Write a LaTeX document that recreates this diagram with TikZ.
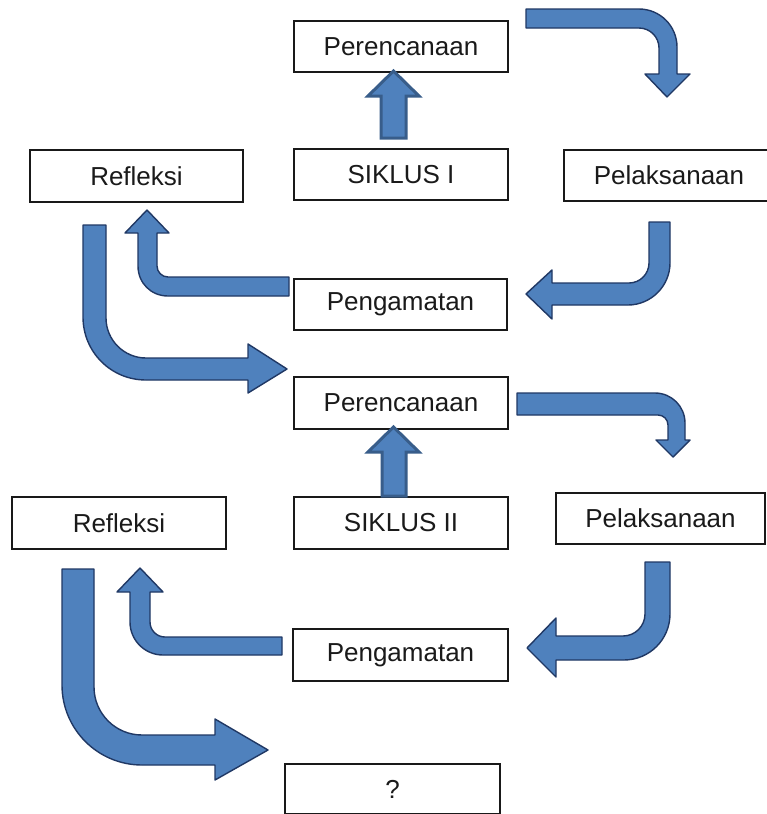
\documentclass[tikz,border=0pt]{standalone}
\usepackage{fontspec}
\setmainfont{Liberation Sans}
\definecolor{arrfill}{HTML}{4F81BD}
\definecolor{arrline}{HTML}{203864}
\definecolor{uparrline}{HTML}{385D8A}
\definecolor{txt}{HTML}{1A1A1A}
\begin{document}
\begin{tikzpicture}[x=1pt,y=-1pt,
  box/.style={draw=black!90, line width=2.8pt, fill=white, inner sep=0pt,
    text=txt, font=\fontsize{26}{30}\selectfont},
  bent/.style={fill=arrfill, draw=arrline, line width=1.4pt, line join=round},
  uparr/.style={fill=arrfill, draw=uparrline, line width=3pt, line join=miter}]
\useasboundingbox (0,0) rectangle (766,814);
\fill[white] (0,0) rectangle (766,814);

% boxes
\node[box, minimum width=214pt, minimum height=51pt] (per1) at (401,46.5) {Perencanaan};
\node[box, minimum width=214pt, minimum height=51pt] (sik1) at (401,174.5) {SIKLUS I};
\node[box, minimum width=206pt, minimum height=51pt] (pel1) at (667,175.5) {\hspace*{4pt}Pelaksanaan};
\node[box, minimum width=213pt, minimum height=52pt] (ref1) at (136.5,176) {Refleksi};
\node[box, minimum width=213pt, minimum height=51pt] (pen1) at (400.5,304.5) {Pengamatan};
\node[box, minimum width=214pt, minimum height=52pt] (per2) at (401,403) {Perencanaan};
\node[box, minimum width=214pt, minimum height=52pt] (sik2) at (401,523) {SIKLUS II};
\node[box, minimum width=209pt, minimum height=51pt] (pel2) at (660.5,518.5) {Pelaksanaan};
\node[box, minimum width=214pt, minimum height=52pt] (ref2) at (119,523) {Refleksi};
\node[box, minimum width=215pt, minimum height=52pt] (pen2) at (400.5,655) {Pengamatan};
\node[box, minimum width=215pt, minimum height=50pt] (q) at (392.5,789) {?};

% cycle I
% SIKLUS I -> Perencanaan
\draw[uparr] (381,138) -- (381,96) -- (368,96) -- (393.5,71) -- (419,96) -- (406,96) -- (406,138) -- cycle;
% Perencanaan -> Pelaksanaan
\draw[bent] (526,9) -- (639,9) .. controls (660,9) and (677,26) .. (677,47) -- (677,74) -- (690,74) -- (667,97) -- (645,74) -- (659,74) -- (659,48) .. controls (659,37) and (650,28) .. (639,28) -- (526,28) -- cycle;
% Pelaksanaan -> Pengamatan
\draw[bent] (649,222) -- (670,222) -- (670,263) .. controls (670,286) and (651,305) .. (628,305) -- (552,305) -- (552,319) -- (526,294) -- (552,270) -- (552,283) -- (629,283) .. controls (640,283) and (649,274) .. (649,263) -- cycle;
% Pengamatan -> Refleksi
\draw[bent] (289,277) -- (168,277) .. controls (162,277) and (157,272) .. (157,266) -- (157,233) -- (169,233) -- (147,210) -- (125,233) -- (138,233) -- (138,266) .. controls (138,283) and (151,296) .. (168,296) -- (289,296) -- cycle;
% Refleksi -> Perencanaan II
\draw[bent] (83,225) -- (106,225) -- (106,318) .. controls (106,340) and (124,358) .. (146,358) -- (248,358) -- (248,344) -- (287,369) -- (248,393) -- (248,380) -- (146,380) .. controls (111,380) and (83,352) .. (83,317) -- cycle;

% cycle II
\draw[uparr] (382,496) -- (382,452) -- (368,452) -- (393.5,427) -- (419,452) -- (406,452) -- (406,496) -- cycle;
\draw[bent] (517,393) -- (655,393) .. controls (671.6,393) and (685,406.4) .. (685,423) -- (685,440) -- (690,440) -- (673,457) -- (656,440) -- (668,440) -- (668,425) .. controls (668,419.5) and (663.5,415) .. (658,415) -- (517,415) -- cycle;
\draw[bent] (645,562) -- (670,562) -- (670,614) .. controls (670,639.4) and (649.4,660) .. (624,660) -- (556,660) -- (556,677) -- (527,648) -- (556,618) -- (556,636) -- (623,636) .. controls (635.1,636) and (645,626.1) .. (645,614) -- cycle;
\draw[bent] (282,637) -- (165,637) .. controls (156.7,637) and (150,630.3) .. (150,622) -- (150,592) -- (163,592) -- (140,568) -- (117,592) -- (130,592) -- (130,622) .. controls (130,640.2) and (144.8,655) .. (163,655) -- (282,655) -- cycle;
\draw[bent] (62,569) -- (94,569) -- (94,687) .. controls (94,713.5) and (115.5,735) .. (142,735) -- (215,735) -- (215,719) -- (268,750) -- (215,780) -- (215,765) -- (142,765) .. controls (97.8,765) and (62,729.2) .. (62,685) -- cycle;
\end{tikzpicture}
\end{document}
